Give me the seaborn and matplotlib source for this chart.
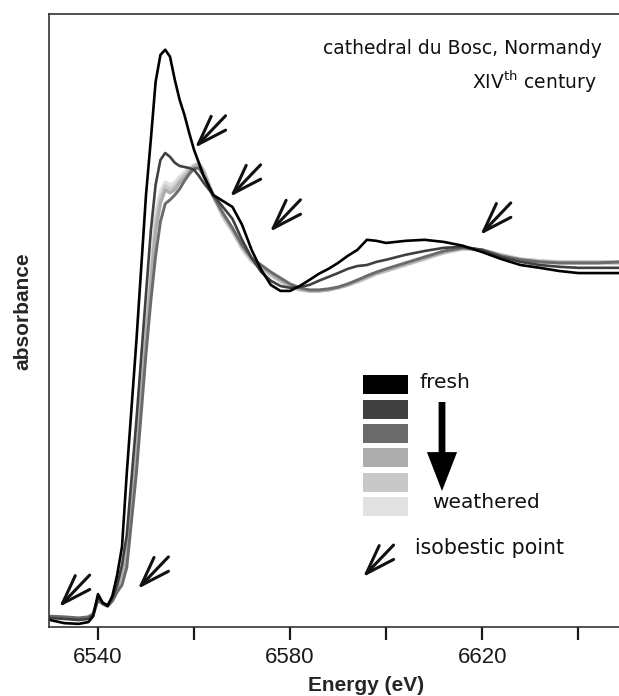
import numpy as np
import pandas as pd
import matplotlib
matplotlib.use("Agg")
import matplotlib.pyplot as plt
import seaborn as sns
from matplotlib.patches import Rectangle

# ---------------- data ----------------
energy = [6530, 6533, 6536, 6538, 6539, 6540, 6541, 6542, 6543, 6544,
          6545, 6546, 6548, 6550, 6551, 6552, 6553, 6554, 6555, 6556,
          6557, 6558, 6559, 6560, 6561, 6562, 6564, 6566, 6568, 6570,
          6572, 6574, 6576, 6578, 6580, 6582, 6584, 6586, 6588, 6590,
          6592, 6594, 6596, 6598, 6600, 6604, 6608, 6612, 6616, 6620,
          6624, 6628, 6632, 6636, 6640, 6644, 6649]

fresh = [0.000, -0.009, -0.011, -0.006, 0.011, 0.074, 0.049, 0.040, 0.069, 0.129,
         0.209, 0.420, 0.797, 1.214, 1.371, 1.537, 1.614, 1.629, 1.609, 1.543,
         1.486, 1.443, 1.391, 1.343, 1.306, 1.269, 1.214, 1.197, 1.180, 1.129,
         1.057, 1.000, 0.957, 0.940, 0.940, 0.954, 0.971, 0.989, 1.003, 1.020,
         1.040, 1.057, 1.086, 1.083, 1.077, 1.083, 1.086, 1.080, 1.069, 1.051,
         1.031, 1.014, 1.006, 0.997, 0.991, 0.991, 0.991]

stage2 = [0.006, 0.003, 0.000, 0.003, 0.014, 0.066, 0.049, 0.043, 0.063, 0.100,
          0.157, 0.243, 0.569, 0.931, 1.111, 1.243, 1.314, 1.334, 1.323, 1.306,
          1.297, 1.294, 1.291, 1.286, 1.269, 1.249, 1.214, 1.180, 1.146, 1.086,
          1.034, 0.994, 0.969, 0.954, 0.949, 0.951, 0.957, 0.969, 0.980, 0.991,
          1.003, 1.011, 1.014, 1.023, 1.029, 1.043, 1.054, 1.063, 1.066, 1.057,
          1.037, 1.023, 1.014, 1.009, 1.006, 1.006, 1.006]

stage3 = [0.011, 0.009, 0.006, 0.009, 0.017, 0.057, 0.046, 0.040, 0.054, 0.080,
          0.100, 0.150, 0.420, 0.760, 0.910, 1.040, 1.137, 1.189, 1.200, 1.214,
          1.231, 1.254, 1.274, 1.289, 1.291, 1.269, 1.211, 1.163, 1.120, 1.071,
          1.034, 1.014, 0.994, 0.977, 0.960, 0.949, 0.943, 0.943, 0.946, 0.951,
          0.960, 0.971, 0.983, 0.994, 1.003, 1.020, 1.037, 1.054, 1.063, 1.057,
          1.040, 1.029, 1.023, 1.020, 1.020, 1.020, 1.023]

stage4 = [0.009, 0.006, 0.003, 0.006, 0.017, 0.060, 0.046, 0.040, 0.057, 0.091,
          0.130, 0.180, 0.460, 0.800, 0.960, 1.110, 1.190, 1.229, 1.220, 1.229,
          1.249, 1.263, 1.280, 1.294, 1.300, 1.280, 1.214, 1.160, 1.117, 1.069,
          1.031, 1.009, 0.989, 0.971, 0.957, 0.946, 0.940, 0.940, 0.943, 0.949,
          0.957, 0.969, 0.980, 0.991, 1.000, 1.017, 1.034, 1.051, 1.063, 1.057,
          1.040, 1.029, 1.023, 1.020, 1.020, 1.020, 1.020]

stage5 = [0.009, 0.006, 0.003, 0.006, 0.017, 0.060, 0.046, 0.040, 0.057, 0.091,
          0.135, 0.185, 0.470, 0.810, 0.975, 1.135, 1.205, 1.240, 1.231, 1.240,
          1.257, 1.271, 1.286, 1.297, 1.303, 1.283, 1.211, 1.154, 1.111, 1.063,
          1.026, 1.006, 0.986, 0.969, 0.954, 0.943, 0.940, 0.940, 0.943, 0.949,
          0.957, 0.966, 0.977, 0.989, 0.997, 1.014, 1.031, 1.049, 1.060, 1.057,
          1.043, 1.031, 1.026, 1.023, 1.023, 1.023, 1.023]

weathered = [0.009, 0.006, 0.003, 0.006, 0.017, 0.058, 0.046, 0.040, 0.057, 0.091,
             0.140, 0.190, 0.480, 0.820, 0.990, 1.160, 1.226, 1.251, 1.243, 1.251,
             1.266, 1.280, 1.291, 1.300, 1.306, 1.286, 1.209, 1.151, 1.109, 1.060,
             1.023, 1.003, 0.983, 0.966, 0.951, 0.943, 0.940, 0.940, 0.943, 0.949,
             0.957, 0.966, 0.977, 0.989, 0.997, 1.014, 1.031, 1.049, 1.060, 1.057,
             1.043, 1.031, 1.026, 1.023, 1.023, 1.023, 1.023]

samples = ["fresh", "stage 2", "stage 3", "stage 4", "stage 5", "weathered"]
series = [fresh, stage2, stage3, stage4, stage5, weathered]
colors = ["#000000", "#404040", "#6b6b6b", "#adadad", "#c8c8c8", "#e1e1e1"]

x_ticks = [6540, 6560, 6580, 6600, 6620, 6640]
x_ticklabels = ["6540", "", "6580", "", "6620", ""]

# isosbestic points marked with arrows (energy, absorbance of the arrow tip)
iso_E = [6531.9, 6548.3, 6560.2, 6567.5, 6575.8, 6619.6]
iso_A = [0.037, 0.089, 1.349, 1.209, 1.109, 1.100]

# ---------------- figure ----------------
sns.set_style("white")
plt.rcParams["font.family"] = ["DejaVu Sans"]
plt.rcParams["mathtext.fontset"] = "dejavusans"

W, H = 619, 696
fig = plt.figure(figsize=(W / 100, H / 100), dpi=100)
AX_L, AX_T, AX_R, AX_B = 49, 14, 619, 627
ax = fig.add_axes([AX_L / W, 1 - AX_B / H, (AX_R - AX_L) / W, (AX_B - AX_T) / H])


def afrac(px, py):
    return ((px - AX_L) / (AX_R - AX_L), (AX_B - py) / (AX_B - AX_T))


df = pd.concat(
    [pd.DataFrame({"energy": energy, "absorbance": s, "sample": n})
     for n, s in zip(samples, series)],
    ignore_index=True,
)

order = samples[::-1]
pal = dict(zip(samples, colors))
sns.lineplot(data=df, x="energy", y="absorbance", hue="sample",
             hue_order=order, palette=pal, estimator=None, sort=False,
             legend=False, linewidth=1.9, ax=ax)
widths = {"fresh": 1.9, "stage 2": 1.9, "stage 3": 2.1,
          "stage 4": 2.4, "stage 5": 2.5, "weathered": 2.5}
for line, name in zip(ax.lines, order):
    line.set_linewidth(widths[name])
    line.set_solid_joinstyle("round")

ax.set_xlim(6529.8, 6648.5)
ax.set_ylim(-0.020, 1.731)

ax.set_xticks(x_ticks)
ax.set_xticklabels(x_ticklabels)
ax.set_yticks([])
ax.tick_params(axis="x", direction="out", length=9.5, width=1.6,
               pad=5, labelsize=16, colors="#1a1a1a", bottom=True)
for lab in ax.get_xticklabels():
    lab.set_fontfamily(["Liberation Sans", "DejaVu Sans"])

for side in ["left", "top", "bottom"]:
    ax.spines[side].set_visible(True)
    ax.spines[side].set_linewidth(1.2)
    ax.spines[side].set_color("#333333")
ax.spines["right"].set_visible(False)

ax.set_xlabel("Energy (eV)", fontsize=15, fontweight="bold",
              family=["Liberation Sans", "DejaVu Sans"])
ax.xaxis.set_label_coords(*afrac(366, 676))
ax.set_ylabel("absorbance", fontsize=15, fontweight="bold",
              family=["Liberation Sans", "DejaVu Sans"])
ax.yaxis.set_label_coords(*afrac(32, 311))

# title text
ax.text(*afrac(602, 48), "cathedral du Bosc, Normandy", transform=ax.transAxes,
        ha="right", va="center", fontsize=13.5, color="#111111")
ax.text(*afrac(597, 82), r"XIV$^{\mathrm{th}}$ century", transform=ax.transAxes,
        ha="right", va="center", fontsize=13.5, color="#111111")

# isosbestic arrows
arrow_kw = dict(arrowstyle="->,head_length=2.1,head_width=0.72",
                lw=2.2, color="#111111", mutation_scale=10,
                shrinkA=0, shrinkB=0, capstyle="round", joinstyle="round")
for e, a in zip(iso_E, iso_A):
    ax.annotate("", xy=(e, a), xycoords="data", xytext=(22, 23),
                textcoords="offset points", arrowprops=arrow_kw)

# legend: grey swatches
box_tops = [375, 400, 424, 448, 473, 497]
for top, c in zip(box_tops, colors):
    x0, y0 = afrac(363, top + 19)
    ax.add_patch(Rectangle((x0, y0), 45 / (AX_R - AX_L), 19 / (AX_B - AX_T),
                           transform=ax.transAxes, facecolor=c,
                           edgecolor="none", zorder=5))
ax.text(*afrac(419, 382), "fresh", transform=ax.transAxes, ha="left",
        va="center", fontsize=14.5, color="#111111")
ax.text(*afrac(432, 503), "weathered", transform=ax.transAxes, ha="left",
        va="center", fontsize=14.5, color="#111111")
ax.annotate("", xy=afrac(442, 491), xycoords="axes fraction",
            xytext=afrac(442, 402), textcoords="axes fraction",
            arrowprops=dict(arrowstyle="simple,head_length=2.0,head_width=1.55,tail_width=0.35",
                            color="black", mutation_scale=14,
                            shrinkA=0, shrinkB=0, lw=0))

# legend: isosbestic arrow key
ax.annotate("", xy=afrac(363, 577), xycoords="axes fraction", xytext=(22, 23),
            textcoords="offset points", arrowprops=arrow_kw)
ax.text(*afrac(415, 548), "isobestic point", transform=ax.transAxes, ha="left",
        va="center", fontsize=14.8, color="#111111")

fig.savefig("out.png", dpi=100)
